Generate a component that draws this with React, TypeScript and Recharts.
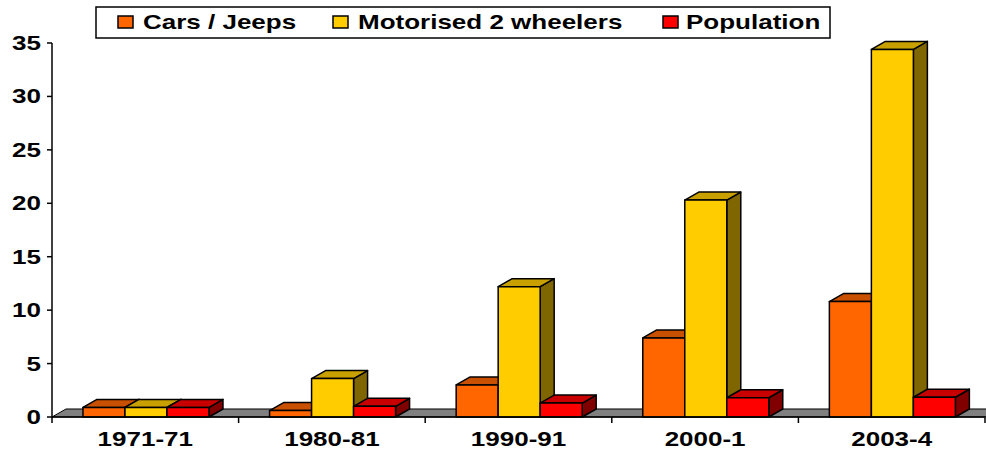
import { Bar, BarChart, ReferenceArea, XAxis, YAxis } from "recharts";

const periods = ["1971-71", "1980-81", "1990-91", "2000-1", "2003-4"];
const carsJeeps = [0.9, 0.6, 3.0, 7.4, 10.8];
const twoWheelers = [0.9, 3.6, 12.2, 20.3, 34.4];
const population = [0.9, 1.0, 1.3, 1.8, 1.85];
const yTicks = [0, 5, 10, 15, 20, 25, 30, 35];

const seriesNames = ["Cars / Jeeps", "Motorised 2 wheelers", "Population"];

const ORANGE = { front: "#ff6600", top: "#c85000", side: "#803300" };
const YELLOW = { front: "#ffcc00", top: "#c8a000", side: "#806600" };
const RED = { front: "#ff0000", top: "#c80000", side: "#800000" };
const COLORS = [ORANGE, YELLOW, RED];

const W = 986;
const H = 453;
const PLOT_LEFT = 52;
const PLOT_RIGHT = 1;
const X_AXIS_H = 36;
const AXIS_Y = H - X_AXIS_H;
const DX = 14;
const DY = 8;
const FONT = "'Liberation Sans', Arial, sans-serif";
const FONT_SIZE = 20;
const STRETCH = 1.3; // the original text is drawn wide

const data = periods.map((p, i) => ({
  period: p,
  cars: carsJeeps[i],
  wheelers: twoWheelers[i],
  pop: population[i],
}));

const band = (W - PLOT_LEFT - PLOT_RIGHT) / periods.length;

function WideText({ x, y, anchor, children }: any) {
  return (
    <text
      transform={`translate(${x},${y}) scale(${STRETCH},1)`}
      textAnchor={anchor}
      fontFamily={FONT}
      fontWeight="bold"
      fontSize={FONT_SIZE}
      fill="#000"
    >
      {children}
    </text>
  );
}

function Bar3D(props: any) {
  const { x, y, width, height, colors } = props;
  if (width == null || height == null) return null;
  const common = { stroke: "#000", strokeWidth: 1.5, strokeLinejoin: "round" as const };
  return (
    <g>
      <polygon
        points={`${x + width},${y} ${x + width + DX},${y - DY} ${x + width + DX},${y + height - DY} ${x + width},${y + height}`}
        fill={colors.side}
        {...common}
      />
      <polygon
        points={`${x},${y} ${x + DX},${y - DY} ${x + width + DX},${y - DY} ${x + width},${y}`}
        fill={colors.top}
        {...common}
      />
      <rect x={x} y={y} width={width} height={height} fill={colors.front} {...common} />
    </g>
  );
}

function Floor(props: any) {
  const { x, y, width, height } = props;
  return (
    <polygon
      points={`${x},${y + height} ${x + width},${y + height} ${x + width + DX},${y} ${x + DX},${y}`}
      fill="#808080"
      stroke="#000"
      strokeWidth={1}
    />
  );
}

function XTick(props: any) {
  const { x, payload, index } = props;
  const left = x - band / 2;
  return (
    <g>
      <line x1={left} y1={AXIS_Y} x2={left} y2={AXIS_Y + 6} stroke="#000" strokeWidth={1.5} />
      {index === periods.length - 1 && (
        <line x1={x + band / 2} y1={AXIS_Y} x2={x + band / 2} y2={AXIS_Y + 6} stroke="#000" strokeWidth={1.5} />
      )}
      <WideText x={x} y={AXIS_Y + 29} anchor="middle">
        {payload.value}
      </WideText>
    </g>
  );
}

function YTick(props: any) {
  const { y, payload } = props;
  return (
    <WideText x={41} y={y + 7} anchor="end">
      {payload.value}
    </WideText>
  );
}

const legendSwatchX = [118, 333, 663];
const legendTextX = [143, 358, 686];

function LegendBox() {
  return (
    <svg
      width={W}
      height={45}
      style={{ position: "absolute", left: 0, top: 0, pointerEvents: "none" }}
    >
      <rect x={96} y={7} width={734} height={31} fill="#fff" stroke="#000" strokeWidth={1.5} />
      {seriesNames.map((name, i) => (
        <g key={name}>
          <rect x={legendSwatchX[i]} y={16} width={15} height={12} fill={COLORS[i].front} stroke="#000" strokeWidth={1.5} />
          <WideText x={legendTextX[i]} y={29} anchor="start">
            {name}
          </WideText>
        </g>
      ))}
    </svg>
  );
}

export default function App() {
  return (
    <div style={{ position: "absolute", left: 0, top: 0, width: W, height: H, background: "#fff" }}>
      <BarChart
        width={W}
        height={H}
        data={data}
        margin={{ top: 43, right: PLOT_RIGHT, left: 0, bottom: 0 }}
        barCategoryGap="16.6%"
        barGap={0}
      >
        <XAxis
          dataKey="period"
          axisLine={{ stroke: "#000", strokeWidth: 1.5 }}
          tickLine={false}
          tick={<XTick />}
          interval={0}
          height={X_AXIS_H}
        />
        <YAxis
          domain={[0, 35]}
          ticks={yTicks}
          width={PLOT_LEFT}
          axisLine={{ stroke: "#000", strokeWidth: 1.5 }}
          tickLine={{ stroke: "#000", strokeWidth: 1.5 }}
          tickSize={5}
          tick={<YTick />}
          interval={0}
        />
        <ReferenceArea y1={0} y2={0.75} ifOverflow="visible" shape={<Floor />} />
        <Bar dataKey="cars" name={seriesNames[0]} isAnimationActive={false} shape={<Bar3D colors={ORANGE} />} />
        <Bar dataKey="wheelers" name={seriesNames[1]} isAnimationActive={false} shape={<Bar3D colors={YELLOW} />} />
        <Bar dataKey="pop" name={seriesNames[2]} isAnimationActive={false} shape={<Bar3D colors={RED} />} />
      </BarChart>
      <LegendBox />
    </div>
  );
}
